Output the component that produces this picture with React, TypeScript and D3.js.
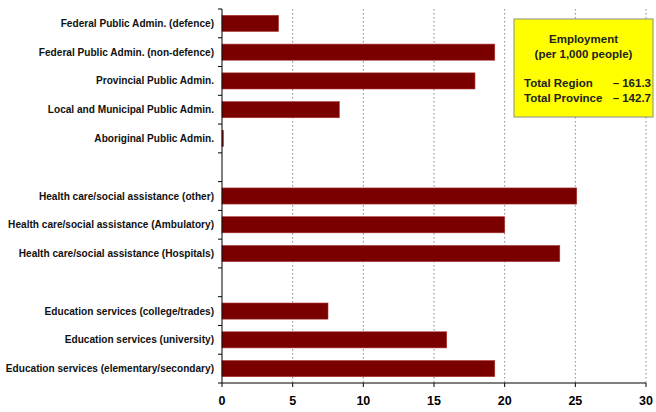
import React from "react";
import * as d3 from "d3";

const categories = [
  "Federal Public Admin. (defence)",
  "Federal Public Admin. (non-defence)",
  "Provincial Public Admin.",
  "Local and Municipal Public Admin.",
  "Aboriginal Public Admin.",
  "",
  "Health care/social assistance (other)",
  "Health care/social assistance (Ambulatory)",
  "Health care/social assistance (Hospitals)",
  " ",
  "Education services (college/trades)",
  "Education services (university)",
  "Education services (elementary/secondary)",
];
const values: (number | null)[] = [4.0, 19.3, 17.9, 8.3, 0.1, null, 25.1, 20.0, 23.9, null, 7.5, 15.9, 19.3];
const xTicks = [0, 5, 10, 15, 20, 25, 30];
const legendTitle = ["Employment", "(per 1,000 people)"];
const legendRows = [
  ["Total Region", "– 161.3"],
  ["Total Province", "– 142.7"],
];

const W = 656;
const H = 412;
const left = 222;
const right = 646;
const top = 9;
const bottom = 383;

export default function App() {
  const x = d3.scaleLinear().domain([0, 30]).range([left, right]);
  const y = d3.scaleBand<string>().domain(categories).range([top, bottom]).paddingInner(0.44).paddingOuter(0.22);
  const font = "'Liberation Sans', Arial, sans-serif";
  const boundaries = d3.range(categories.length + 1).map((i) => top + ((bottom - top) / categories.length) * i);
  return (
    <svg width={W} height={H} style={{ position: "absolute", left: 0, top: 0 }}>
      <rect x={0} y={0} width={W} height={H} fill="#fff" />
      {xTicks.slice(1).map((t) => (
        <line key={t} x1={x(t)} x2={x(t)} y1={top} y2={bottom} stroke="#888" strokeDasharray="1.5,2.5" strokeWidth={1} />
      ))}
      {categories.map((c, i) =>
        values[i] == null ? null : (
          <rect
            key={i}
            x={x(0)}
            y={y(c)!}
            width={Math.max(1, x(values[i]!) - x(0))}
            height={y.bandwidth()}
            fill="#7a0000"
            stroke="#a33"
            strokeWidth={0.6}
          />
        )
      )}
      <line x1={left} x2={left} y1={top} y2={bottom} stroke="#000" />
      <line x1={left} x2={right} y1={bottom} y2={bottom} stroke="#000" />
      {boundaries.map((b, i) => (
        <line key={i} x1={left - 4} x2={left} y1={b} y2={b} stroke="#000" />
      ))}
      {xTicks.map((t) => (
        <g key={t}>
          <line x1={x(t)} x2={x(t)} y1={bottom} y2={bottom + 4} stroke="#000" />
          <text x={x(t)} y={bottom + 22} textAnchor="middle" fontFamily={font} fontWeight="bold" fontSize={12.5} fill="#000">
            {t}
          </text>
        </g>
      ))}
      {categories.map((c, i) =>
        c.trim() === "" ? null : (
          <text
            key={i}
            x={214}
            y={y(c)! + y.bandwidth() / 2}
            dy="0.35em"
            textAnchor="end"
            fontFamily={font}
            fontWeight="bold"
            fontSize={10.1}
            fill="#111"
          >
            {c}
          </text>
        )
      )}
      <rect x={514} y={19} width={139} height={98} fill="#ffff00" stroke="#8a8a8a" strokeWidth={1} />
      {legendTitle.map((t, i) => (
        <text key={t} x={583.5} y={43 + i * 15} textAnchor="middle" fontFamily={font} fontWeight="bold" fontSize={11.5} fill="#222">
          {t}
        </text>
      ))}
      {legendRows.map((r, i) => (
        <g key={r[0]}>
          <text x={524} y={87 + i * 15} fontFamily={font} fontWeight="bold" fontSize={11.5} fill="#222">
            {r[0]}
          </text>
          <text x={651} y={87 + i * 15} textAnchor="end" fontFamily={font} fontWeight="bold" fontSize={11.5} fill="#222">
            {r[1]}
          </text>
        </g>
      ))}
    </svg>
  );
}
